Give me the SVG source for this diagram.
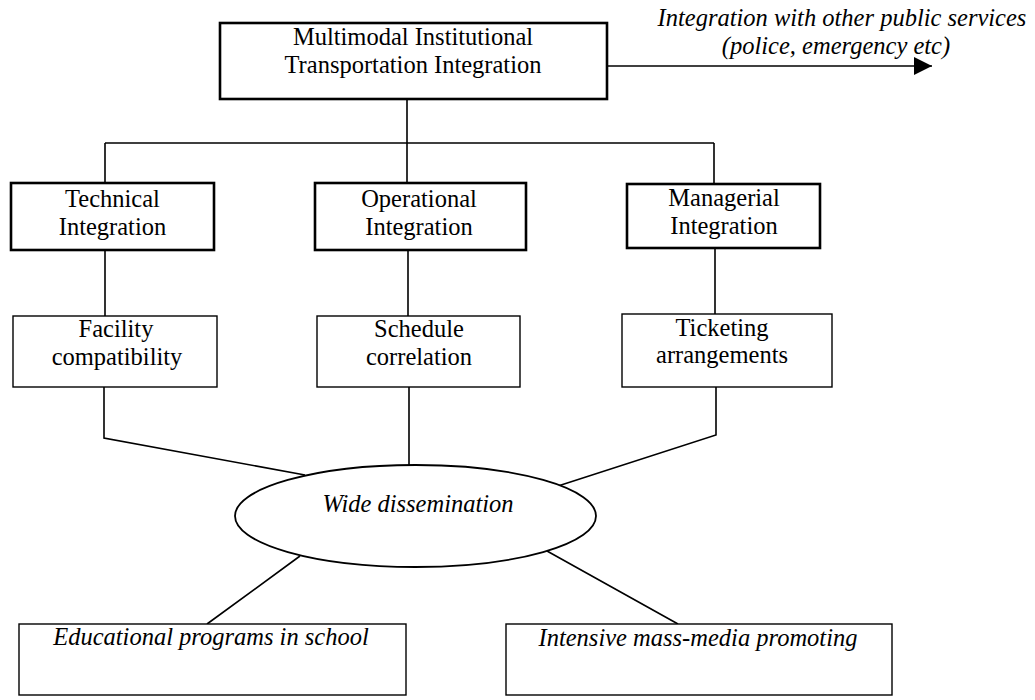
<svg xmlns="http://www.w3.org/2000/svg" width="1035" height="700" viewBox="0 0 1035 700">
<style>
.t{font-family:"Liberation Serif","Times New Roman",serif;font-size:24.5px;fill:#000;text-anchor:middle}
.i{font-style:italic}
.thick{fill:#fff;stroke:#000;stroke-width:2.6}
.thin{fill:#fff;stroke:#000;stroke-width:1.4}
.c{fill:none;stroke:#000;stroke-width:1.6}
</style>
<defs>
<marker id="ah" markerUnits="userSpaceOnUse" markerWidth="20" markerHeight="20" viewBox="0 0 20 20" refX="18" refY="10" orient="auto">
<path d="M0,1 L18,10 L0,19 Z" fill="#000"/>
</marker>
</defs>
<rect width="1035" height="700" fill="#fff"/>
<g id="connectors">
<path class="c" d="M407,99 V143 M105,143 H714 M105,143 V183 M407,143 V183 M714,143 V184"/>
<path class="c" d="M105,250 V316 M408,250 V316 M715,248 V314"/>
<path class="c" d="M104,387 V438 L305,475 M409,387 V465 M716,387 V435 L558,486"/>
<path class="c" d="M300,556 L207,624 M547,551 L678,624"/>
<path class="c" d="M607,66 H932" marker-end="url(#ah)"/>
</g>
<g id="top">
<rect class="thick" x="220" y="23" width="387" height="76"/>
<text class="t" x="413" y="45">Multimodal Institutional</text>
<text class="t" x="413" y="73">Transportation Integration</text>
</g>
<g id="public">
<text class="t i" x="842" y="26">Integration with other public services</text>
<text class="t i" x="836" y="54">(police, emergency etc)</text>
</g>
<g id="technical">
<rect class="thick" x="11" y="183" width="203" height="67"/>
<text class="t" x="112.5" y="207">Technical</text>
<text class="t" x="112.5" y="235">Integration</text>
</g>
<g id="operational">
<rect class="thick" x="315" y="183" width="211" height="67"/>
<text class="t" x="419" y="207">Operational</text>
<text class="t" x="419" y="235">Integration</text>
</g>
<g id="managerial">
<rect class="thick" x="627" y="184" width="193" height="64"/>
<text class="t" x="724" y="206">Managerial</text>
<text class="t" x="724" y="234">Integration</text>
</g>
<g id="facility">
<rect class="thin" x="13" y="316" width="204" height="71"/>
<text class="t" x="116" y="337">Facility</text>
<text class="t" x="117" y="365">compatibility</text>
</g>
<g id="schedule">
<rect class="thin" x="317" y="316" width="203" height="71"/>
<text class="t" x="419" y="337">Schedule</text>
<text class="t" x="419" y="365">correlation</text>
</g>
<g id="ticketing">
<rect class="thin" x="622" y="314" width="210" height="73"/>
<text class="t" x="722" y="336">Ticketing</text>
<text class="t" x="722" y="363">arrangements</text>
</g>
<g id="dissemination">
<ellipse class="thin" cx="415.5" cy="516" rx="180.5" ry="51" style="stroke-width:1.8"/>
<text class="t i" x="418" y="512">Wide dissemination</text>
</g>
<g id="educational">
<rect class="thin" x="19" y="624" width="387" height="71"/>
<text class="t i" x="211" y="645">Educational programs in school</text>
</g>
<g id="mass-media">
<rect class="thin" x="506" y="624" width="386" height="71"/>
<text class="t i" x="698" y="646">Intensive mass-media promoting</text>
</g>
</svg>
